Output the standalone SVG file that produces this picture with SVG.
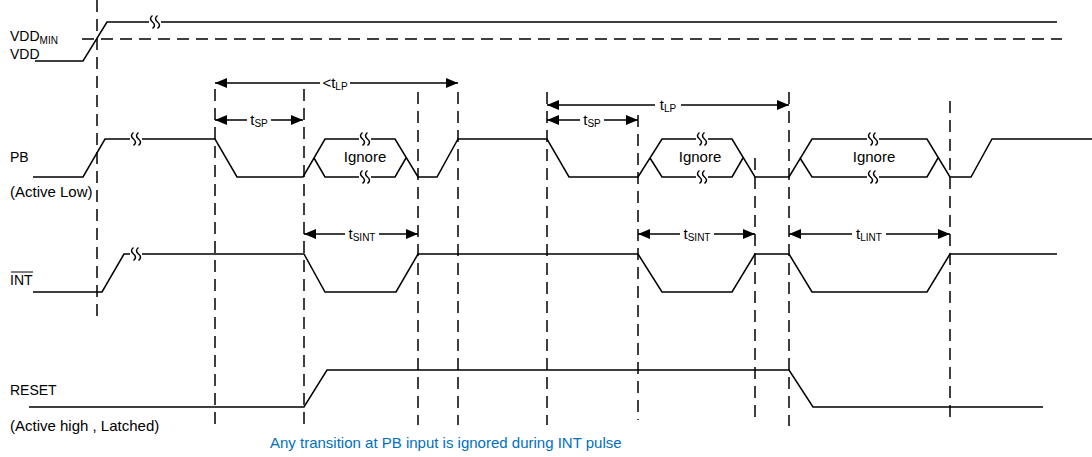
<svg xmlns="http://www.w3.org/2000/svg" width="1092" height="457" viewBox="0 0 1092 457">
<style>
.t{font-family:"Liberation Sans",Arial,sans-serif;fill:#000}
.n{font-size:14px}
.p{font-size:15px}
.s{font-size:10px}
.sig{fill:none;stroke:#000;stroke-width:1.5;stroke-linejoin:miter}
.dash{fill:none;stroke:#000;stroke-width:1.5;stroke-dasharray:12 7}
.arr{fill:none;stroke:#000;stroke-width:1.3;marker-start:url(#ah);marker-end:url(#ah)}
.bg{fill:#fff}
.note{font-family:"Liberation Sans",Arial,sans-serif;font-size:15px;fill:#0070C0}
</style>
<defs>
<marker id="ah" viewBox="0 0 12 10" refX="12" refY="5" markerWidth="12" markerHeight="10" markerUnits="userSpaceOnUse" orient="auto-start-reverse">
<path d="M0,0 L12,5 L0,10 z" fill="#000"/>
</marker>
<g id="brk">
<rect x="-6" y="-2" width="12" height="4" fill="#fff"/>
<path d="M-2.5,-6.5 q-4,3.25 0,6.5 q4,3.25 0,6.5 M2.5,-6.5 q-4,3.25 0,6.5 q4,3.25 0,6.5" fill="none" stroke="#000" stroke-width="1.5"/>
</g>
</defs>
<rect width="1092" height="457" fill="#fff"/>

<g id="labels">
<text class="t n" x="10" y="41">VDD<tspan class="s" dy="3">MIN</tspan></text>
<text class="t n" x="10" y="59">VDD</text>
<text class="t n" x="10" y="162">PB</text>
<text class="t p" x="10" y="197">(Active Low)</text>
<text class="t n" x="10" y="285">INT</text>
<line x1="11" y1="272" x2="33" y2="272" stroke="#000" stroke-width="1"/>
<text class="t n" x="10" y="395">RESET</text>
<text class="t p" x="10" y="431">(Active high , Latched)</text>
<text class="note" x="270" y="448">Any transition at PB input is ignored during INT pulse</text>
</g>

<g id="guides">
<line class="dash" x1="82" y1="39" x2="1062" y2="39"/>
<line class="dash" x1="97" y1="0" x2="97" y2="320"/>
<line class="dash" x1="215" y1="89" x2="215" y2="426"/>
<line class="dash" x1="304" y1="89" x2="304" y2="427"/>
<line class="dash" x1="418" y1="92" x2="418" y2="425"/>
<line class="dash" x1="458" y1="92" x2="458" y2="425"/>
<line class="dash" x1="547" y1="92" x2="547" y2="425"/>
<line class="dash" x1="638" y1="115" x2="638" y2="420"/>
<line class="dash" x1="755" y1="158" x2="755" y2="421"/>
<line class="dash" x1="789" y1="92" x2="789" y2="426"/>
<line class="dash" x1="950" y1="101" x2="950" y2="420"/>
</g>

<g id="vdd">
<polyline class="sig" points="35,61 83,61 107,22 1057,22"/>
<use href="#brk" x="155" y="22"/>
</g>

<g id="pb">
<polyline class="sig" points="33,177 83,177 105,139 215,139 237,177 303,177 325,139 395,139 418,177 437,177 458,139 547,139 569,177 638,177 662,139 732,139 755,177 789,177 812,139 927,139 950,177 971,177 992,139 1092,139"/>
<polyline class="sig" points="314,158 325,177 395,177 406,158"/>
<polyline class="sig" points="650,158 662,177 732,177 743,158"/>
<polyline class="sig" points="800,158 812,177 927,177 938,158"/>
<use href="#brk" x="136" y="139"/>
<use href="#brk" x="365" y="139"/>
<use href="#brk" x="365" y="177"/>
<use href="#brk" x="702" y="139"/>
<use href="#brk" x="702" y="177"/>
<use href="#brk" x="873" y="139"/>
<use href="#brk" x="873" y="177"/>
<text class="t p" x="365" y="162" text-anchor="middle">Ignore</text>
<text class="t p" x="700" y="162" text-anchor="middle">Ignore</text>
<text class="t p" x="874" y="162" text-anchor="middle">Ignore</text>
</g>

<g id="int">
<polyline class="sig" points="33,292 102,292 124,254 304,254 325,292 396,292 418,254 638,254 662,292 732,292 755,254 789,254 812,292 927,292 950,254 1057,254"/>
<use href="#brk" x="136" y="254"/>
</g>

<g id="reset">
<polyline class="sig" points="29,407 304,407 327,370 789,370 813,407 1043,407"/>
</g>

<g id="connectors">
<line class="arr" x1="215" y1="83" x2="458" y2="83"/>
<rect class="bg" x="320" y="75" width="30" height="16"/>
<text class="t p" x="335" y="88" text-anchor="middle">&lt;t<tspan class="s" dy="2">LP</tspan></text>

<line class="arr" x1="215" y1="120" x2="303" y2="120"/>
<rect class="bg" x="247" y="112" width="24" height="16"/>
<text class="t p" x="259" y="125" text-anchor="middle">t<tspan class="s" dy="2">SP</tspan></text>

<line class="arr" x1="547" y1="105" x2="789" y2="105"/>
<rect class="bg" x="655" y="97" width="26" height="16"/>
<text class="t p" x="668" y="110" text-anchor="middle">t<tspan class="s" dy="2">LP</tspan></text>

<line class="arr" x1="547" y1="120" x2="638" y2="120"/>
<rect class="bg" x="580" y="112" width="24" height="16"/>
<text class="t p" x="592" y="125" text-anchor="middle">t<tspan class="s" dy="2">SP</tspan></text>

<line class="arr" x1="304" y1="234" x2="418" y2="234"/>
<rect class="bg" x="345" y="226" width="34" height="16"/>
<text class="t p" x="362" y="239" text-anchor="middle">t<tspan class="s" dy="2">SINT</tspan></text>

<line class="arr" x1="638" y1="234" x2="755" y2="234"/>
<rect class="bg" x="680" y="226" width="34" height="16"/>
<text class="t p" x="697" y="239" text-anchor="middle">t<tspan class="s" dy="2">SINT</tspan></text>

<line class="arr" x1="789" y1="234" x2="950" y2="234"/>
<rect class="bg" x="852" y="226" width="34" height="16"/>
<text class="t p" x="869" y="239" text-anchor="middle">t<tspan class="s" dy="2">LINT</tspan></text>
</g>
</svg>
